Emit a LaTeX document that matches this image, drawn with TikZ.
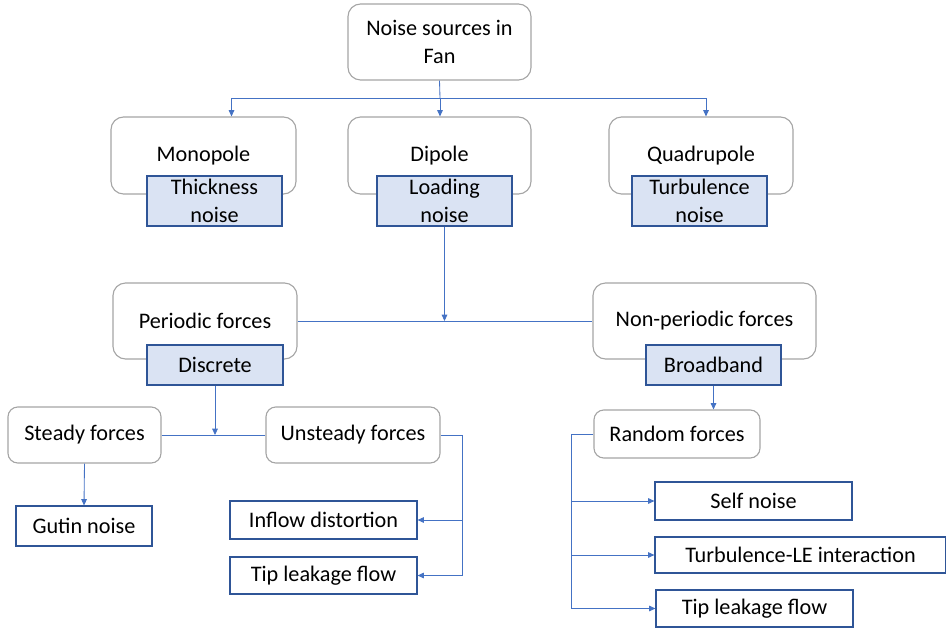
\documentclass[tikz,border=0pt]{standalone}
\usepackage{fontspec}
\setmainfont{Carlito}
\usepackage{tikz}
\usetikzlibrary{arrows.meta}
\usetikzlibrary{positioning}

\definecolor{linkblue}{HTML}{4472C4}
\definecolor{boxgray}{HTML}{A5A5A5}
\definecolor{boxblue}{HTML}{2F5597}
\definecolor{tagfill}{HTML}{DAE3F3}

\begin{document}
\begin{tikzpicture}[x=0.025cm,y=-0.025cm,
        font=\fontsize{15.8}{19.5}\selectfont,
        group/.style={draw=boxgray,fill=white,rounded corners=9pt,line width=0.8pt,align=center,inner sep=1pt},
        tag/.style={draw=boxblue,fill=tagfill,line width=0.8pt,align=center,inner sep=1pt},
        leaf/.style={draw=boxblue,fill=white,line width=0.8pt,align=center,inner sep=1pt},
        link/.style={draw=linkblue,line width=0.6pt},
        arr/.style={link,-{Triangle[length=4.5pt,width=4pt]}}]

        \useasboundingbox (0,0) rectangle (946,630);

        % top level
        \node[group,minimum width=4.575cm,minimum height=1.9cm] (src) at (439.5,42) {Noise sources in\\Fan};

        \node[group,minimum width=4.625cm,minimum height=1.925cm] (mono) at (203.5,155.5) {Monopole};
        \node[group,minimum width=4.575cm,minimum height=1.925cm] (dip) at (439.5,155.5) {Dipole};
        \node[group,minimum width=4.6cm,minimum height=1.925cm] (quad) at (701,155.5) {Quadrupole};

        \node[tag,minimum width=3.375cm,minimum height=1.25cm] (thick) at (214.5,201) {Thickness\\noise};
        \node[tag,minimum width=3.375cm,minimum height=1.25cm] (load) at (444.5,201) {Loading\\noise};
        \node[tag,minimum width=3.375cm,minimum height=1.25cm] (turb) at (699.5,201) {Turbulence\\noise};

        \coordinate (split) at (440,98);
        \draw[link] (src.south) -- (split);
        \draw[arr] (split) -| ([xshift=0.7cm]mono.north);
        \draw[arr] (split) -- (split |- dip.north);
        \draw[arr] (split) -| ([xshift=0.125cm]quad.north);

        % loading noise
        \node[group,minimum width=4.6cm,minimum height=1.9cm] (per) at (205,321) {Periodic forces};
        \node[group,minimum width=5.575cm,minimum height=1.9cm] (nonper) at (704.5,321) {Non-periodic forces};

        \node[tag,minimum width=3.4cm,minimum height=1cm] (disc) at (215,365) {Discrete};
        \node[tag,minimum width=3.375cm,minimum height=1cm] (broad) at (713.5,365) {Broadband};

        \draw[link] (per.east) -- (nonper.west);
        \draw[arr] (load.south) -- (load.south |- per.east);

        % periodic branch
        \node[group,rounded corners=7pt,minimum width=3.825cm,minimum height=1.4cm] (steady) at (84.5,435) {Steady forces};
        \node[group,rounded corners=7pt,minimum width=4.35cm,minimum height=1.4cm] (unsteady) at (353,435) {Unsteady forces};

        \draw[link] (steady.east) -- (unsteady.west);
        \draw[arr] (disc.south) -- (disc.south |- steady.east);

        \node[leaf,minimum width=3.4cm,minimum height=1cm] (gutin) at (84,526) {Gutin noise};
        \node[leaf,minimum width=4.675cm,minimum height=0.95cm] (inflow) at (323.5,520) {Inflow distortion};
        \node[leaf,minimum width=4.675cm,minimum height=0.925cm] (tipa) at (323.5,575.5) {Tip leakage flow};

        \draw[arr] (steady.south) -- (gutin.north);
        \draw[arr] (unsteady.east) -- ++(22,0) coordinate (ubus) |- (tipa.east);
        \draw[arr] (ubus |- inflow.east) -- (inflow.east);

        % non-periodic branch
        \node[group,rounded corners=7pt,minimum width=4.15cm,minimum height=1.2cm] (random) at (677,434) {Random forces};

        \draw[arr] (broad.south) -- (broad.south |- random.north);

        \node[leaf,minimum width=4.925cm,minimum height=0.95cm] (self) at (753.5,501) {Self noise};
        \node[leaf,minimum width=7.275cm,minimum height=0.9cm] (tle) at (800.5,555) {Turbulence-LE interaction};
        \node[leaf,minimum width=4.925cm,minimum height=0.925cm] (tipb) at (754.5,608.5) {Tip leakage flow};

        \draw[arr] (random.west) -- ++(-22,0) coordinate (rbus) |- (tipb.west);
        \draw[arr] (rbus |- self.west) -- (self.west);
        \draw[arr] (rbus |- tle.west) -- (tle.west);

\end{tikzpicture}
\end{document}
